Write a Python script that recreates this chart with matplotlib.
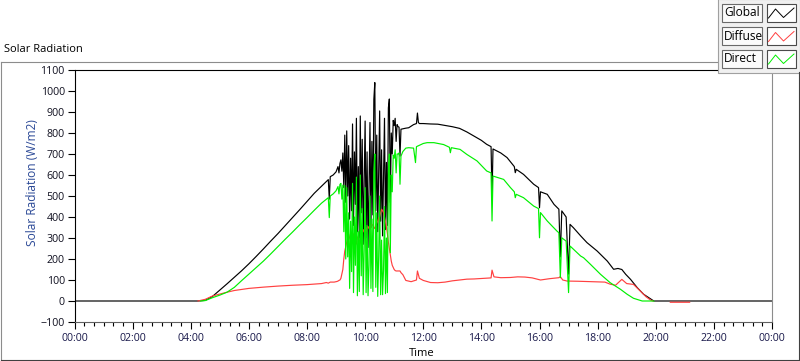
import numpy as np
import matplotlib.pyplot as plt
from matplotlib.ticker import MultipleLocator, FuncFormatter
from matplotlib.patches import Rectangle

plt.rcParams['font.family'] = ['Open Sans', 'DejaVu Sans']

# minutes since midnight, W/m2
global_min = [0, 255, 270, 285, 300, 315, 330, 345, 360, 375, 390, 405, 420, 435, 450,
              465, 480, 495, 510, 524, 526, 528, 534, 538,
              540, 542, 544, 546, 548, 550, 552, 554, 556, 558, 560, 562, 564, 566, 568,
              570, 572, 574, 576, 578, 580, 582, 584, 586, 588, 590, 592, 594, 596, 598,
              600, 602, 604, 606, 608, 610, 612, 614, 616, 618, 620, 622, 624, 626, 628,
              630, 632, 634, 636, 638, 640, 642, 644, 646, 648, 650, 652, 654, 656, 658,
              660, 662, 664, 666, 668, 670, 672, 674, 678, 684,
              690, 700, 706, 708, 710, 712, 720, 735, 750, 765, 780, 795, 810, 825, 840,
              851, 860, 862, 864, 880, 893, 908, 910, 912, 927, 948, 958, 960, 962, 976,
              990, 1000, 1003, 1006, 1015, 1020, 1023, 1030, 1045, 1058, 1079, 1100, 1113,
              1122, 1130, 1138, 1148, 1162, 1175, 1189, 1196, 1440]
global_wm2 = [0, 0, 3, 22, 52, 82, 113, 144, 177, 212, 248, 285, 321, 359, 397,
              435, 474, 513, 547, 578, 485, 592, 600, 610,
              615, 628, 640, 610, 655, 672, 618, 705, 540, 790, 470, 810, 500, 740, 390,
              680, 430, 843, 360, 710, 460, 870, 330, 640, 300, 881, 420, 770, 270, 560,
              857, 300, 710, 255, 530, 850, 350, 760, 410, 960, 1040, 430, 790, 330, 610,
              905, 380, 720, 310, 580, 870, 340, 660, 360, 920, 962, 470, 800, 700, 860,
              835, 870, 760, 840, 830, 828, 690, 818, 820, 823,
              825, 840, 845, 895, 850, 845, 845, 843, 842, 836, 830, 822, 805, 785, 765,
              746, 735, 500, 724, 705, 683, 640, 611, 627, 603, 556, 540, 444, 520, 508,
              460, 437, 210, 429, 400, 128, 365, 349, 310, 278, 238, 190, 151,
              155, 150, 127, 103, 63, 32, 11, 0, 0]

diffuse_min = [255, 270, 285, 300, 315, 330, 360, 390, 420, 450, 480, 510, 520, 524, 528, 536,
               540, 542, 544, 546, 548, 550, 552, 554, 556, 558, 560, 562, 564, 566, 568,
               570, 572, 574, 576, 578, 580, 582, 584, 586, 588, 590, 592, 594, 596, 598,
               600, 602, 604, 606, 608, 610, 612, 614, 616, 618, 620, 622, 624, 626, 628,
               630, 632, 634, 636, 638, 640, 642, 644, 646, 648, 650, 652, 654, 656, 658,
               660, 662, 664, 666, 668, 670, 672, 674, 678, 684,
               695, 706, 708, 712, 720, 735, 750, 765, 780, 795, 810, 825, 845, 860, 862,
               866, 880, 900, 915, 930, 945, 962, 980, 1000, 1003, 1008, 1017, 1040, 1070,
               1095, 1106, 1117, 1130, 1140, 1154, 1168, 1180, 1189, 1194, 1212, 1230, 1270]
diffuse_wm2 = [0, 8, 24, 33, 42, 50, 60, 66, 71, 75, 78, 83, 88, 85, 90, 90,
               92, 93, 95, 98, 100, 108, 128, 150, 200, 238, 260, 280, 300, 319, 300,
               290, 271, 290, 320, 300, 285, 271, 300, 310, 290, 275, 300, 320, 340, 330,
               320, 335, 349, 355, 345, 340, 360, 365, 360, 350, 345, 365, 370, 380, 395,
               400, 420, 437, 430, 420, 400, 380, 350, 320, 280, 250, 220, 190, 170, 160,
               150, 145, 143, 143, 143, 143, 143, 135, 125, 98,
               92, 100, 143, 108, 98, 88, 87, 90, 96, 100, 104, 105, 108, 110, 147,
               115, 111, 112, 115, 114, 110, 100, 106, 111, 116, 100, 95, 94, 92,
               90, 80, 75, 103, 83, 79, 48, 20, 5, 0, np.nan, -6, -6]

direct_min = [260, 270, 285, 300, 315, 330, 345, 360, 375, 390, 405, 420, 435, 450, 465,
              480, 495, 510, 524, 526, 528, 534, 538,
              540, 542, 544, 546, 548, 550, 552, 554, 556, 558, 560, 562, 564, 566, 568,
              570, 572, 574, 576, 578, 580, 582, 584, 586, 588, 590, 592, 594, 596, 598,
              600, 602, 604, 606, 608, 610, 612, 614, 616, 618, 620, 622, 624, 626, 628,
              630, 632, 634, 636, 638, 640, 642, 644, 646, 648, 650, 652, 654, 656, 658,
              660, 662, 664, 666, 668, 670, 672, 674, 678, 684,
              690, 700, 704, 706, 720, 728, 742, 762, 774, 776, 778, 796, 810, 831, 851,
              860, 862, 864, 886, 900, 908, 910, 912, 927, 948, 958, 960, 962, 976, 996,
              1000, 1003, 1006, 1015, 1020, 1023, 1045, 1051, 1065, 1086, 1106, 1127,
              1141, 1154, 1172, 1196]
direct_wm2 = [0, 2, 16, 28, 42, 65, 97, 128, 159, 190, 224, 259, 294, 328, 363,
              397, 432, 466, 492, 397, 500, 510, 520,
              525, 535, 545, 510, 555, 560, 485, 552, 330, 550, 200, 540, 210, 420, 60,
              380, 140, 560, 40, 400, 170, 590, 25, 330, 45, 600, 120, 440, 30, 240,
              540, 40, 360, 25, 170, 500, 60, 390, 45, 610, 700, 65, 420, 22, 215,
              500, 30, 290, 30, 150, 450, 35, 300, 40, 620, 700, 230, 600, 520, 695,
              680, 720, 610, 700, 700, 705, 556, 690, 712, 728,
              730, 728, 659, 735, 750, 754, 754, 745, 732, 706, 730, 722, 698, 667, 619,
              610, 381, 595, 579, 540, 520, 492, 508, 492, 452, 440, 301, 421, 381, 333,
              325, 111, 301, 285, 40, 262, 214, 206, 175, 127, 87, 56,
              32, 13, 0, 0]

fig = plt.figure(figsize=(8, 3.61), dpi=100)
W, H = 800.0, 361.0

ax = fig.add_axes([74.5 / W, 1 - 322 / H, (772 - 74.5) / W, (322 - 70) / H])
ax.plot(np.array(global_min) / 60, global_wm2, color='black', lw=0.85, zorder=2)
ax.plot(np.array(diffuse_min) / 60, diffuse_wm2, color='#ff4040', lw=0.85, zorder=3)
ax.plot(np.array(direct_min) / 60, direct_wm2, color='#00f000', lw=0.85, zorder=4)

ax.set_xlim(0, 24)
ax.set_ylim(-100, 1100)
ax.xaxis.set_major_locator(MultipleLocator(2))
ax.xaxis.set_minor_locator(MultipleLocator(1 / 3))
ax.xaxis.set_major_formatter(FuncFormatter(lambda v, p: '%02d:00' % (int(round(v)) % 24)))
ax.yaxis.set_major_locator(MultipleLocator(100))
ax.tick_params(axis='x', which='major', length=5, width=0.8, pad=3,
               labelsize=7.7, labelcolor='#18184a')
ax.tick_params(axis='x', which='minor', length=3, width=0.8)
ax.tick_params(axis='y', which='major', length=5, width=0.8, pad=2,
               labelsize=7.7, labelcolor='#101020')
for side, c in [('left', 'black'), ('top', 'black'), ('right', '#8c8c8c'), ('bottom', '#606060')]:
    ax.spines[side].set_color(c)
    ax.spines[side].set_linewidth(0.8)

# overlay in pixel coordinates for frame, titles and legend
ov = fig.add_axes([0, 0, 1, 1], zorder=5)
ov.set_xlim(0, W)
ov.set_ylim(H, 0)
ov.axis('off')
ov.patch.set_alpha(0)
frame = '#8c8c8c'
ov.plot([0.5, 717], [61.5, 61.5], color=frame, lw=0.8)
ov.plot([0.5, 0.5], [61.5, 360.5], color=frame, lw=0.8)
ov.plot([0.5, 799.5], [359.8, 359.8], color='#404040', lw=0.8)
ov.plot([799.3, 799.3], [72, 360.5], color='#404040', lw=0.8)

ov.text(4, 50, 'Solar Radiation', fontsize=8, ha='left', va='center', color='black')
ov.text(32.5, 183, 'Solar Radiation (W/m2)', fontsize=8.6, rotation=90,
        ha='center', va='center', color='#2a4896')
ov.text(422, 353, 'Time', fontsize=8, ha='center', va='center', color='black')

# legend panel
ov.add_patch(Rectangle((717.5, -1), 82, 73.5, facecolor='#f0f0f0',
                       edgecolor='#a0a0a0', lw=0.8))
names = ['Global', 'Diffuse', 'Direct']
colors = ['black', '#ff4040', '#00f000']
tops = [3.5, 27, 49.5]
for name, c, t in zip(names, colors, tops):
    ov.add_patch(Rectangle((722, t), 40, 18, facecolor='#fbfbfb',
                           edgecolor='#6a6a6a', lw=0.8))
    ov.text(724, t + 9, name, fontsize=8.6, ha='left', va='center', color='black')
    ov.add_patch(Rectangle((767, t), 29, 18, facecolor='white',
                           edgecolor='#4a4a4a', lw=0.8))
    ov.plot([768.5, 775.5, 783.5, 794], [t + 14.5, t + 5.5, t + 14, t + 4.5], color=c, lw=0.7)

fig.savefig('out.png', dpi=100)
